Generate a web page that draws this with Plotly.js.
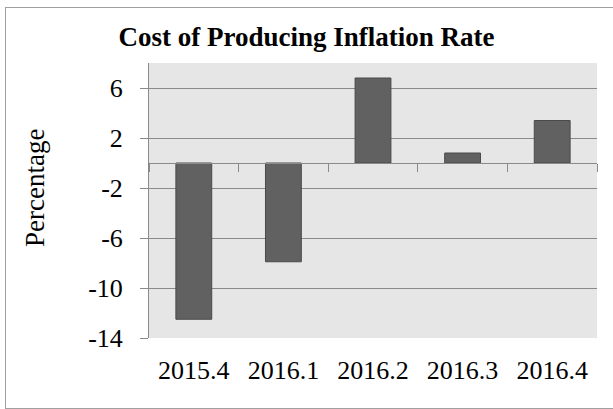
<!DOCTYPE html>
<html>
<head>
<meta charset="utf-8">
<script src="https://cdn.plot.ly/plotly-3.0.1.min.js"></script>
<style>
  html, body { margin: 0; padding: 0; background: #ffffff; overflow: hidden; }
  #wrap { position: relative; width: 613px; height: 409px; overflow: hidden; }
  #chart { position: absolute; left: 0; top: 0; width: 613px; height: 409px; }
  /* outer chart frame; its right side runs past the window edge */
  #frame {
    position: absolute; left: 5px; top: 7px; width: 700px; height: 400px;
    border: 1px solid #a0a0a0; pointer-events: none;
  }
</style>
</head>
<body>
<div id="wrap">
  <div id="chart"></div>
  <div id="frame"></div>
</div>
<script>
// Quarterly cost-of-producing inflation rate, in percent
const quarters = ['2015.4', '2016.1', '2016.2', '2016.3', '2016.4'];
const rates = [-12.5, -7.9, 6.8, 0.8, 3.4];
const yTickValues = [-14, -10, -6, -2, 2, 6];
const yRange = [-14, 8];

const serif = '"Times New Roman", "Liberation Serif", serif';
const gridGray = '#8a8a8a';

const bars = {
  type: 'bar',
  x: quarters,
  y: rates,
  width: 0.4,
  marker: { color: '#616161', line: { color: '#4a4a4a', width: 1 } },
  hoverinfo: 'x+y',
  showlegend: false
};

// invisible companion trace so the zero-line category axis gets drawn
const zeroAxisCarrier = {
  type: 'scatter',
  mode: 'markers',
  x: quarters,
  y: rates,
  xaxis: 'x2',
  marker: { opacity: 0 },
  hoverinfo: 'skip',
  showlegend: false
};

// fraction of the plot height where y = 0 sits
const zeroPos = (0 - yRange[0]) / (yRange[1] - yRange[0]);

const layout = {
  width: 613,
  height: 409,
  margin: { l: 149, r: 16, t: 63, b: 71 },
  paper_bgcolor: 'rgba(0,0,0,0)',
  plot_bgcolor: '#e6e6e6',
  font: { family: serif, size: 26, color: '#000000' },
  title: {
    text: '<b>Cost of Producing Inflation Rate</b>',
    font: { family: serif, size: 27, color: '#000000' },
    x: 0.5,
    xanchor: 'center',
    y: 1 - 37 / 409,
    yanchor: 'middle'
  },
  xaxis: {
    type: 'category',
    range: [-0.5, 4.5],
    showline: false,
    showgrid: false,
    zeroline: false,
    ticks: '',
    ticklabelstandoff: 14,
    tickfont: { family: serif, size: 26, color: '#000000' },
    fixedrange: true
  },
  xaxis2: {
    type: 'category',
    overlaying: 'x',
    anchor: 'free',
    position: zeroPos,
    range: [-0.5, 4.5],
    showline: true,
    linecolor: gridGray,
    linewidth: 1,
    showgrid: false,
    zeroline: false,
    ticks: 'outside',
    tickson: 'boundaries',
    ticklen: 8,
    tickcolor: gridGray,
    tickwidth: 1,
    showticklabels: false,
    fixedrange: true
  },
  yaxis: {
    range: yRange,
    tickmode: 'array',
    tickvals: yTickValues,
    ticktext: yTickValues.map(String),
    showgrid: true,
    gridcolor: gridGray,
    gridwidth: 1,
    zeroline: false,
    showline: true,
    linecolor: gridGray,
    linewidth: 1,
    ticks: 'outside',
    ticklen: 8,
    tickcolor: gridGray,
    ticklabelstandoff: 12,
    tickfont: { family: serif, size: 26, color: '#000000' },
    fixedrange: true
  },
  annotations: [{
    text: 'Percentage',
    textangle: -90,
    xref: 'paper',
    yref: 'paper',
    x: (35 - 149) / 448,
    y: (338 - 188) / 275,
    xanchor: 'center',
    yanchor: 'middle',
    showarrow: false,
    font: { family: serif, size: 27, color: '#000000' }
  }]
};

Plotly.newPlot('chart', [bars, zeroAxisCarrier], layout, { displayModeBar: false, staticPlot: true });
</script>
</body>
</html>
